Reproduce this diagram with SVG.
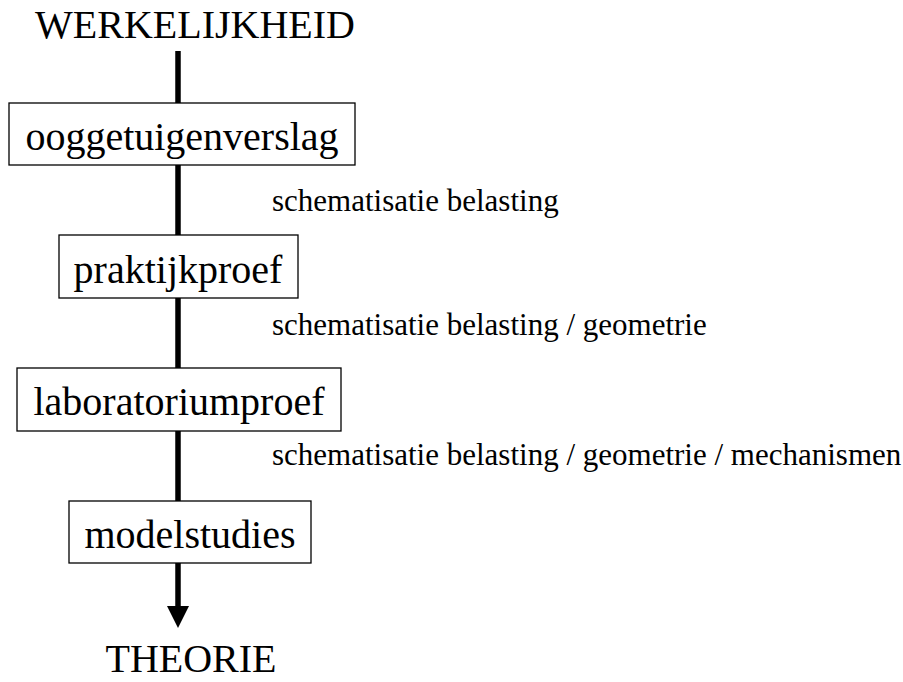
<svg xmlns="http://www.w3.org/2000/svg" width="903" height="682" viewBox="0 0 903 682">
<style>
.big{font-family:"Liberation Serif","Times New Roman",serif;font-size:40px;fill:#000;text-anchor:middle}
.small{font-family:"Liberation Serif","Times New Roman",serif;font-size:31px;fill:#000}
.box{fill:#fff;stroke:#000;stroke-width:1.3}
.ln{stroke:#000;stroke-width:5.5;fill:none}
</style>
<defs>
<marker id="ah" markerUnits="userSpaceOnUse" markerWidth="24" markerHeight="24" refX="0" refY="11" orient="auto">
<path d="M0,0 L22,11 L0,22 Z" fill="#000"/>
</marker>
</defs>
<g id="connectors">
<line class="ln" x1="178" y1="51" x2="178" y2="103"/>
<line class="ln" x1="178" y1="165" x2="178" y2="235"/>
<line class="ln" x1="178" y1="298" x2="178" y2="368"/>
<line class="ln" x1="178" y1="431" x2="178" y2="501"/>
<line class="ln" x1="178" y1="563" x2="178" y2="606" marker-end="url(#ah)"/>
</g>
<g id="werkelijkheid"><text class="big" x="195" y="38">WERKELIJKHEID</text></g>
<g id="ooggetuigenverslag">
<rect class="box" x="9" y="103" width="346" height="62"/>
<text class="big" x="182" y="150">ooggetuigenverslag</text>
</g>
<g id="label1"><text class="small" x="272" y="211">schematisatie belasting</text></g>
<g id="praktijkproef">
<rect class="box" x="59" y="235" width="239" height="63"/>
<text class="big" x="178" y="283">praktijkproef</text>
</g>
<g id="label2"><text class="small" x="272" y="335">schematisatie belasting / geometrie</text></g>
<g id="laboratoriumproef">
<rect class="box" x="17" y="368" width="324" height="63"/>
<text class="big" x="179" y="415">laboratoriumproef</text>
</g>
<g id="label3"><text class="small" x="272" y="465">schematisatie belasting / geometrie / mechanismen</text></g>
<g id="modelstudies">
<rect class="box" x="69" y="501" width="242" height="62"/>
<text class="big" x="190" y="548">modelstudies</text>
</g>
<g id="theorie"><text class="big" x="191" y="672">THEORIE</text></g>
</svg>
